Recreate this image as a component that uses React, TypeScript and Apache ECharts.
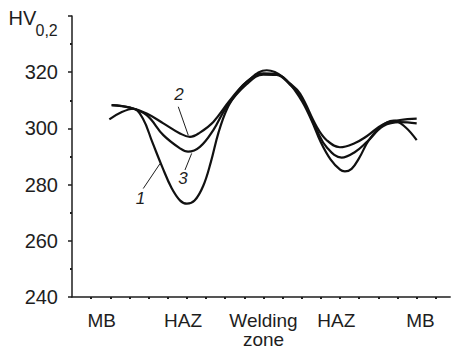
import React, { useEffect, useRef } from 'react';
import * as echarts from 'echarts';

// X axis: positions of zone captions and small tick marks (arbitrary distance units)
const zoneLabels = ['MB', 'HAZ', 'Welding\nzone', 'HAZ', 'MB'];
const zonePositions = [1.55, 5.8, 10, 13.8, 18.2];
const xTicks = [1, 2, 3, 4, 5, 6, 7, 8, 9, 10, 11, 12, 13, 14, 15, 16, 17, 18, 19];

// Hardness HV0,2 profiles
const curve1: [number, number][] = [
  [1.95, 303.2], [2.6, 305.8], [3.2, 307.0], [3.7, 303.5], [4.2, 295.0], [4.7, 286.5],
  [5.2, 278.8], [5.65, 274.3], [6.0, 273.2], [6.4, 274.3], [6.85, 279.5], [7.25, 288.0],
  [7.65, 298.5], [8.1, 307.0], [8.6, 312.5], [9.12, 316.6], [10.17, 320.7], [11.03, 318.2],
  [11.91, 310.8], [12.5, 303.0], [13.0, 295.0], [13.5, 289.0], [14.0, 285.3], [14.25, 284.7],
  [14.6, 285.6], [15.0, 289.5], [15.5, 295.8], [16.1, 300.5], [16.8, 302.8], [17.4, 300.5],
  [18.0, 295.8],
];
const curve2: [number, number][] = [
  [2.07, 308.3], [3.03, 307.4], [3.9, 305.3], [4.77, 301.8], [5.64, 298.2], [6.16, 297.0],
  [6.68, 298.5], [7.38, 302.3], [8.25, 310.0], [9.12, 316.6], [9.99, 319.6], [10.69, 319.3],
  [11.38, 316.0], [11.91, 312.4], [12.78, 300.6], [13.3, 295.8], [13.99, 293.3], [14.78, 294.8],
  [15.39, 297.2], [16.26, 301.5], [17.13, 303.0], [18.0, 303.5],
];
const curve3: [number, number][] = [
  [2.07, 308.3], [3.03, 307.4], [3.9, 304.7], [4.77, 297.6], [5.64, 292.9], [6.06, 291.7],
  [6.68, 293.4], [7.38, 299.4], [8.08, 307.7], [9.12, 315.7], [9.99, 319.1], [10.69, 319.0],
  [11.38, 315.6], [11.91, 311.8], [12.78, 299.4], [13.3, 293.3], [14.08, 289.6], [14.78, 291.6],
  [15.39, 295.1], [16.26, 300.8], [17.13, 302.2], [18.0, 301.8],
];

// Curve numbers and their leader lines (data coordinates)
const curveNames = ['1', '2', '3'];
const leaderLines: [number, number][][] = [
  [[3.72, 278.6], [4.6, 287.5]],
  [[5.55, 307.7], [6.07, 297.6]],
  [[5.9, 285.2], [6.25, 291.1]],
];
const namePositions: [number, number][] = [[3.58, 275.2], [5.59, 312.2], [5.8, 282.0]];

const FONT = '"Liberation Sans", Arial, sans-serif';
const INK = '#1e1e1e';

export default function App() {
  const ref = useRef<HTMLDivElement>(null);
  useEffect(() => {
    document.body.style.margin = '0';
    const chart = echarts.init(ref.current!, undefined, { renderer: 'svg' });
    const curves = [curve1, curve2, curve3];
    chart.setOption({
      animation: false,
      backgroundColor: '#ffffff',
      grid: { left: 72, top: 16, width: 378.2, height: 281.25 },
      xAxis: {
        type: 'value',
        min: 0,
        max: 19.75,
        interval: 1,
        axisLine: { show: true, lineStyle: { color: INK, width: 1.5 } },
        axisTick: { show: true, customValues: xTicks, length: 2, lineStyle: { color: INK, width: 2 } },
        axisLabel: {
          customValues: zonePositions,
          formatter: (v: number) => {
            const i = zonePositions.findIndex((p) => Math.abs(p - v) < 1e-6);
            return i >= 0 ? zoneLabels[i] : '';
          },
          fontSize: 19,
          lineHeight: 19,
          margin: 14,
          color: INK,
          fontFamily: FONT,
        },
        splitLine: { show: false },
      },
      yAxis: {
        type: 'value',
        min: 240,
        max: 340,
        interval: 20,
        axisLine: { show: true, lineStyle: { color: INK, width: 1.5 } },
        axisTick: { show: true, length: 4, lineStyle: { color: INK, width: 1.5 } },
        minorTick: { show: true, splitNumber: 2, length: 2, lineStyle: { color: INK, width: 2 } },
        axisLabel: { fontSize: 20, margin: 14, color: INK, fontFamily: FONT, showMaxLabel: false },
        splitLine: { show: false },
        minorSplitLine: { show: false },
      },
      graphic: [
        {
          type: 'text',
          left: 8.5,
          top: 8,
          style: { text: 'HV', fontSize: 20, fill: INK, fontFamily: FONT },
        },
        {
          type: 'text',
          left: 35.5,
          top: 22,
          style: { text: '0,2', fontSize: 16, fill: INK, fontFamily: FONT },
        },
      ],
      series: curves.map((c, i) => ({
        type: 'line',
        data: c,
        smooth: 0.4,
        showSymbol: false,
        lineStyle: { color: '#111', width: 2.2 },
        markLine: {
          silent: true,
          symbol: ['none', 'none'],
          lineStyle: { color: INK, width: 1, type: 'solid' },
          label: { show: false },
          data: [[{ coord: leaderLines[i][0] }, { coord: leaderLines[i][1] }]],
        },
        markPoint: {
          silent: true,
          symbol: 'circle',
          symbolSize: 1,
          itemStyle: { color: 'rgba(0,0,0,0)' },
          label: {
            show: true,
            position: 'inside',
            formatter: curveNames[i],
            fontSize: 17,
            fontStyle: 'italic',
            color: INK,
            fontFamily: FONT,
          },
          data: [{ coord: namePositions[i] }],
        },
      })),
    });
    return () => chart.dispose();
  }, []);
  return <div ref={ref} style={{ width: 453, height: 349, position: 'absolute', left: 0, top: 0 }} />;
}
